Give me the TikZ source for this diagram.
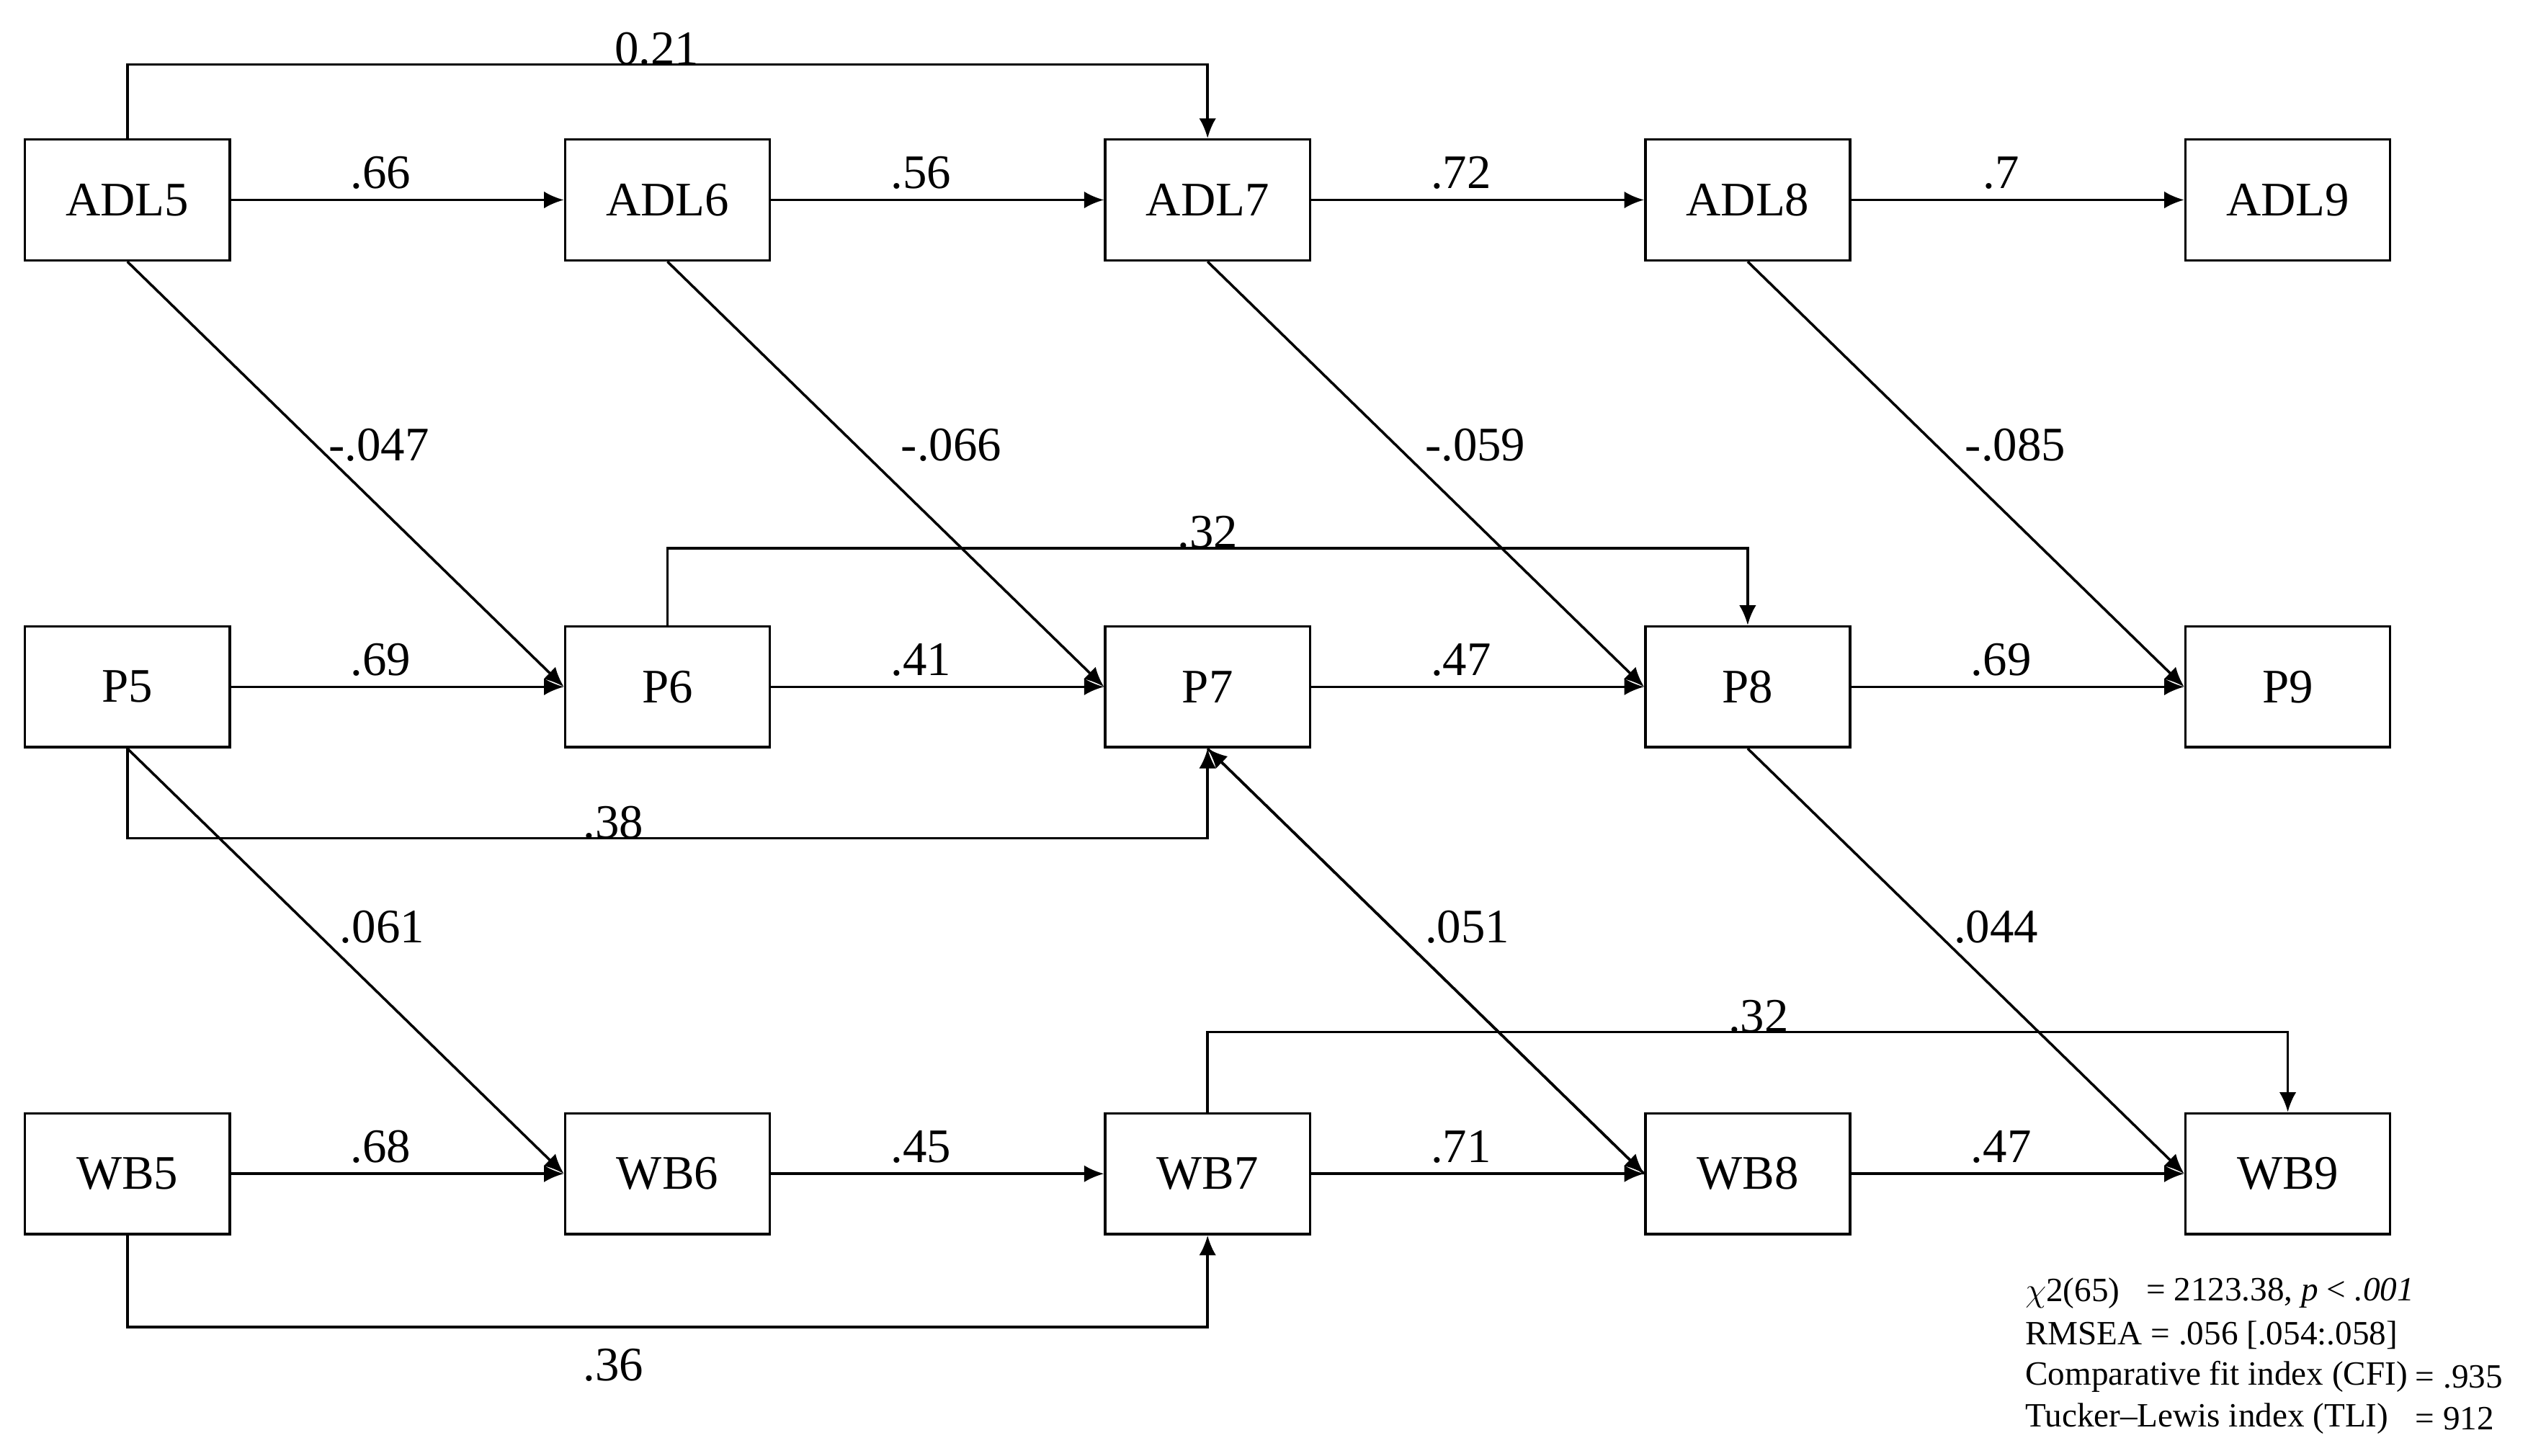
\documentclass[tikz,border=0pt]{standalone}
\usepackage{fontspec}
\setmainfont{Liberation Serif}
\usetikzlibrary{arrows.meta}
\begin{document}
\begin{tikzpicture}[x=0.02cm,y=-0.02cm,
 box/.style={draw,line width=0.9pt,minimum width=2.54cm,minimum height=1.5cm,font=\fontsize{17}{20}\selectfont},
 arr/.style={line width=0.9pt,-{Latex[length=7pt,width=6pt]}},
 lab/.style={font=\fontsize{17}{20}\selectfont},
 st/.style={font=\fontsize{12}{14}\selectfont,anchor=west}]
\useasboundingbox (0,0) rectangle (1568,903);
\foreach \c/\x in {5/79,6/414,7/749,8/1084,9/1419}{
 \node[box] (A\c) at (\x,124) {ADL\c};
 \node[box] (P\c) at (\x,426) {P\c};
 \node[box] (W\c) at (\x,728) {WB\c};
}
% horizontal
\draw[arr] (A5) -- node[lab,above,pos=0.45]{.66} (A6);
\draw[arr] (A6) -- node[lab,above,pos=0.45]{.56} (A7);
\draw[arr] (A7) -- node[lab,above,pos=0.45]{.72} (A8);
\draw[arr] (A8) -- node[lab,above,pos=0.45]{.7} (A9);
\draw[arr] (P5) -- node[lab,above,pos=0.45]{.69} (P6);
\draw[arr] (P6) -- node[lab,above,pos=0.45]{.41} (P7);
\draw[arr] (P7) -- node[lab,above,pos=0.45]{.47} (P8);
\draw[arr] (P8) -- node[lab,above,pos=0.45]{.69} (P9);
\draw[arr] (W5) -- node[lab,above,pos=0.45]{.68} (W6);
\draw[arr] (W6) -- node[lab,above,pos=0.45]{.45} (W7);
\draw[arr] (W7) -- node[lab,above,pos=0.45]{.71} (W8);
\draw[arr] (W8) -- node[lab,above,pos=0.45]{.47} (W9);
% bracket paths
\draw[arr] (A5.north) -- (79,40) -- node[lab,above,pos=0.49,yshift=-4pt]{0.21} (749,40) -- (A7.north);
\draw[arr] (P6.north) -- (414,340) -- node[lab,above,pos=0.5,yshift=-4pt]{.32} (1084,340) -- (P8.north);
\draw[arr] (P5.south) -- (79,520) -- node[lab,above,pos=0.45,yshift=-4pt]{.38} (749,520) -- (P7.south);
\draw[arr] (W7.north) -- (749,640) -- node[lab,above,pos=0.51,yshift=-4pt]{.32} (1419,640) -- (W9.north);
\draw[arr] (W5.south) -- (79,823) -- node[lab,below,pos=0.45,yshift=-4pt]{.36} (749,823) -- (W7.south);
% diagonals
\draw[arr] (A5.south) -- (P6.west);
\draw[arr] (A6.south) -- (P7.west);
\draw[arr] (A7.south) -- (P8.west);
\draw[arr] (A8.south) -- (P9.west);
\draw[arr] (P5.south) -- (W6.west);
\draw[arr] (W8.west) -- (P7.south);
\draw[arr] (P7.south) -- (W8.west);
\draw[arr] (P8.south) -- (W9.west);
\node[lab] (l1) at (235,276) {-.047};
\node[lab] (l2) at (590,276) {-.066};
\node[lab] (l3) at (915,276) {-.059};
\node[lab] (l4) at (1250,276) {-.085};
\node[lab] (l5) at (237,575) {.061};
\node[lab] (l6) at (910,575) {.051};
\node[lab] (l7) at (1238,575) {.044};
% stats
\node[st] (s1) at (1250,802) {$\chi$2(65)};
\node[st] (s1b) at (1325,802) {= 2123.38, \textit{p} < \textit{.001}};
\node[st] (s2) at (1250,828) {RMSEA = .056 [.054:.058]};
\node[st] (s3) at (1250,854) {Comparative fit index (CFI)};
\node[st] (s3b) at (1492,854) {= .935};
\node[st] (s4) at (1250,880) {Tucker–Lewis index (TLI)};
\node[st] (s4b) at (1492,880) {= 912};
\end{tikzpicture}
\end{document}
